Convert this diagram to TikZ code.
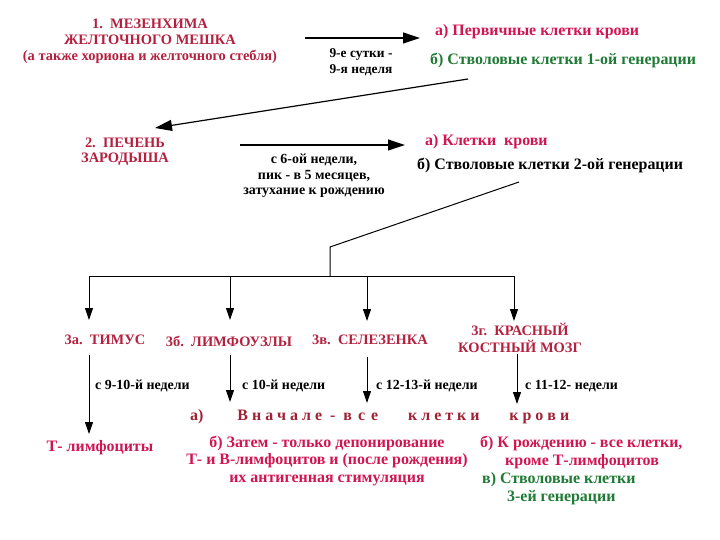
\documentclass[tikz,border=0pt]{standalone}
\usepackage{fontspec}
\setmainfont{Liberation Serif}
\usetikzlibrary{arrows.meta}
\definecolor{headred}{HTML}{B3213F}
\definecolor{cellred}{HTML}{D11552}
\definecolor{stemgreen}{HTML}{1F7A35}
\definecolor{wordred}{HTML}{9E2233}

\begin{document}
\begin{tikzpicture}[x=1bp,y=-1bp,
  head/.style={text=headred,font=\bfseries\fontsize{14.5}{16}\selectfont,align=center,inner sep=0pt},
  cell/.style={text=cellred,font=\bfseries\fontsize{16}{18}\selectfont,align=left,inner sep=0pt},
  stem/.style={text=stemgreen,font=\bfseries\fontsize{16}{18}\selectfont,align=left,inner sep=0pt},
  note/.style={font=\bfseries\fontsize{14}{15.5}\selectfont,align=center,inner sep=0pt},
  bigarr/.style={line width=1.2pt,-{Triangle[length=17bp,width=11bp]}},
  arr/.style={line width=1pt,-{Triangle[length=12bp,width=8bp]}}]
\useasboundingbox (0,0) rectangle (720,540);

% stage 1
\node[head] (mesench) at (150,41) {1.\ \ МЕЗЕНХИМА\\ЖЕЛТОЧНОГО МЕШКА\\(а также хориона и желточного стебля)};
\coordinate (a1s) at (305,38);
\coordinate (a1e) at (420,38);
\draw[bigarr] (a1s) -- (a1e);
\node[note,font=\bfseries\fontsize{13.5}{16}\selectfont] (term1) at (361,62) {9-е сутки -\\9-я неделя};
\node[cell,anchor=west] (cells1) at (435,32) {а) Первичные клетки крови};
\node[stem,anchor=west] (stem1) at (430,60) {б) Стволовые клетки 1-ой генерации};
\coordinate (d1s) at (468,79);
\coordinate (d1e) at (155,128);
\draw[bigarr] (d1s) -- (d1e);

% stage 2
\node[head,font=\bfseries\fontsize{14.5}{15}\selectfont] (liver) at (125,152) {2.\ \ ПЕЧЕНЬ\\ЗАРОДЫША};
\coordinate (a2s) at (240,145);
\coordinate (a2e) at (405,145);
\draw[bigarr] (a2s) -- (a2e);
\node[note] (term2) at (314,176) {с 6-ой недели,\\пик - в 5 месяцев,\\затухание к рождению};
\node[cell,anchor=west] (cells2) at (425,142) {а) Клетки\ \ крови};
\node[stem,text=black,anchor=west] (stem2) at (417,165) {б) Стволовые клетки 2-ой генерации};

% branching
\coordinate (d2s) at (519,182);
\coordinate (hub) at (330,247);
\coordinate (hubbar) at (330,276);
\draw[line width=1pt] (d2s) -- (hub) -- (hubbar);
\coordinate (bra) at (89,276);
\coordinate (brb) at (230,276);
\coordinate (brc) at (367,276);
\coordinate (brd) at (514,276);
\draw[line width=1pt] (bra) -- (brd);
\coordinate (tipa) at (89,320);
\coordinate (tipb) at (230,320);
\coordinate (tipc) at (367,321);
\coordinate (tipd) at (514,321);
\draw[arr] (bra) -- (tipa);
\draw[arr] (brb) -- (tipb);
\draw[arr] (brc) -- (tipc);
\draw[arr] (brd) -- (tipd);

% stage 3
\node[head] (thymus) at (105,340) {3а.\ \ ТИМУС};
\node[head] (lnodes) at (229,341) {3б.\ \ ЛИМФОУЗЛЫ};
\node[head] (spleen) at (370,340) {3в.\ \ СЕЛЕЗЕНКА};
\node[head,font=\bfseries\fontsize{14.5}{17}\selectfont] (marrow) at (520,338) {3г.\ \ КРАСНЫЙ\\КОСТНЫЙ МОЗГ};
\coordinate (la) at (89,355);
\coordinate (lb) at (230,355);
\coordinate (lc) at (367,357);
\coordinate (ld) at (517,354);
\coordinate (ea) at (89,434);
\coordinate (eb) at (230,402);
\coordinate (ec) at (367,403);
\coordinate (ed) at (517,404);
\draw[arr] (la) -- (ea);
\draw[arr] (lb) -- (eb);
\draw[arr] (lc) -- (ec);
\draw[arr] (ld) -- (ed);
\node[note,anchor=west] (wa) at (95,386) {с 9-10-й недели};
\node[note,anchor=west] (wb) at (242,386) {с 10-й недели};
\node[note,anchor=west] (wc) at (376,386) {с 12-13-й недели};
\node[note,anchor=west] (wd) at (525,386) {с 11-12- недели};

% results
\node[cell,text=wordred,anchor=west] (allcells) at (190,417) {а)\hspace{34bp}В н а ч а л е\ \ -\ \ в\hspace{6bp}с\hspace{6bp}е\hspace{30bp}к л е т к и\hspace{30bp}к р о в и};
\node[cell] (tlymph) at (100,448) {Т- лимфоциты};
\node[cell,align=center] (depot) at (327,461) {б) Затем - только депонирование\\Т- и В-лимфоцитов и (после рождения)\\их антигенная стимуляция};
\node[cell,anchor=west] (birth1) at (480,443) {б) К рождению - все клетки,};
\node[cell,anchor=west] (birth2) at (505,462) {кроме Т-лимфоцитов};
\node[stem,anchor=west] (stem3a) at (482,480) {в) Стволовые клетки};
\node[stem,anchor=west] (stem3b) at (507,498) {3-ей генерации};
\end{tikzpicture}
\end{document}
